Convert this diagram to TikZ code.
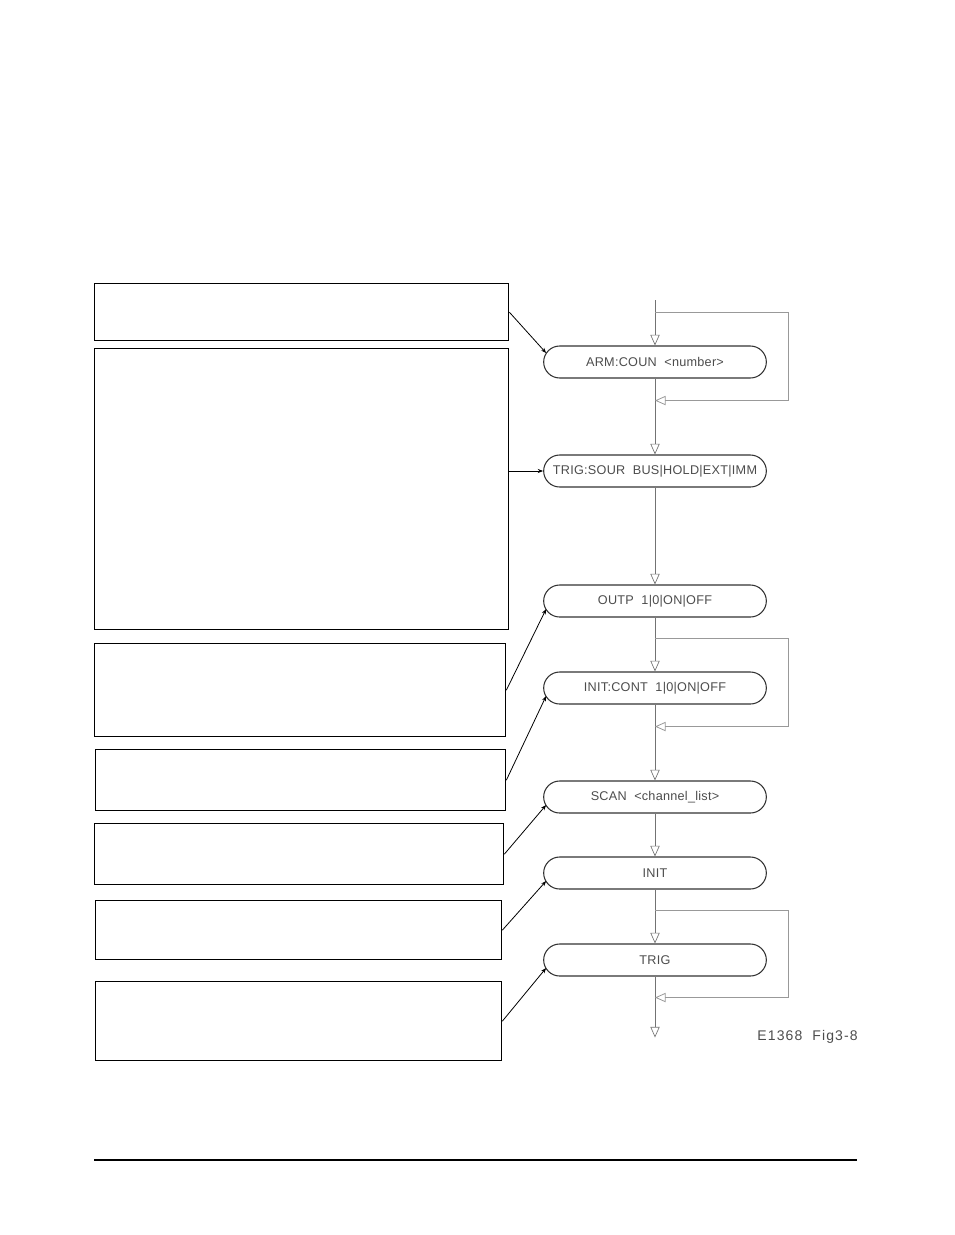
\documentclass[tikz,border=0pt]{standalone}
\usepackage{fontspec}
\setmainfont{Liberation Sans}
\usetikzlibrary{positioning}
\usetikzlibrary{arrows.meta}
\usetikzlibrary{calc}

\begin{document}
\begin{tikzpicture}
  [x=0.75pt,y=-0.75pt,
  infobox/.style={draw=black,line width=1pt,inner sep=0pt,anchor=north west},
  cmd/.style={draw=black!80,line width=0.8pt,rounded corners=12pt,minimum width=167pt,minimum height=24pt,inner sep=0pt,text=black!70,font=\fontsize{9.5}{11}\selectfont\addfontfeatures{LetterSpace=2}},
  flow/.style={draw=black!55,line width=0.5pt,-{Triangle[open,length=8pt,width=7pt]}},
  loopline/.style={draw=black!40,line width=0.6pt,-{Triangle[open,length=8pt,width=7pt]}},
  pointer/.style={draw=black,line width=0.6pt,-{Stealth[length=4pt,width=3pt]}}]
  \useasboundingbox (0,0) rectangle (954,1235);

  % text boxes on the left
  \node[infobox,minimum width=414*0.75pt,minimum height=57*0.75pt] (b1) at (94,283) {};
  \node[infobox,minimum width=414*0.75pt,minimum height=281*0.75pt] (b2) at (94,348) {};
  \node[infobox,minimum width=411*0.75pt,minimum height=93*0.75pt] (b3) at (94,643) {};
  \node[infobox,minimum width=410*0.75pt,minimum height=61*0.75pt] (b4) at (95,749) {};
  \node[infobox,minimum width=409*0.75pt,minimum height=61*0.75pt] (b5) at (94,823) {};
  \node[infobox,minimum width=406*0.75pt,minimum height=59*0.75pt] (b6) at (95,900) {};
  \node[infobox,minimum width=406*0.75pt,minimum height=79*0.75pt] (b7) at (95,981) {};

  % command sequence
  \node[cmd] (arm) at (655,362) {ARM:COUN~~<number>};
  \node[cmd] (trig) at (655,471) {TRIG:SOUR~~BUS|HOLD|EXT|IMM};
  \node[cmd] (outp) at (655,601) {OUTP~~1|0|ON|OFF};
  \node[cmd] (cont) at (655,688) {INIT:CONT~~1|0|ON|OFF};
  \node[cmd] (scan) at (655,797) {SCAN~~<channel\_list>};
  \node[cmd] (init) at (655,873) {INIT};
  \node[cmd] (trg) at (655,960) {TRIG};

  \coordinate (start) at (655,300);
  \draw[flow] (start) -- (arm.north);
  \draw[flow] (arm.south) -- (trig.north);
  \draw[flow] (trig.south) -- (outp.north);
  \draw[flow] (outp.south) -- (cont.north);
  \draw[flow] (cont.south) -- (scan.north);
  \draw[flow] (scan.south) -- (init.north);
  \draw[flow] (init.south) -- (trg.north);
  \draw[flow] (trg.south) -- ++(0,61);

  % loops
  \draw[loopline] ($(arm.north)+(0,-33)$) -- ++(133,0) |- ($(arm.south)+(0,22)$);
  \draw[loopline] ($(cont.north)+(0,-33)$) -- ++(133,0) |- ($(cont.south)+(0,22)$);
  \draw[loopline] ($(trg.north)+(0,-33)$) -- ++(133,0) |- ($(trg.south)+(0,21)$);

  % pointers from the boxes
  \draw[pointer] (b1.east) -- ($(arm.west)+(3,-9)$);
  \draw[pointer] (b2.east |- trig.west) -- (trig.west);
  \draw[pointer] (b3.east) -- ($(outp.west)+(3,8)$);
  \draw[pointer] (b4.east) -- ($(cont.west)+(3,8)$);
  \draw[pointer] (b5.east) -- ($(scan.west)+(3,8)$);
  \draw[pointer] (b6.east) -- ($(init.west)+(3,8)$);
  \draw[pointer] (b7.east) -- ($(trg.west)+(3,8)$);

  \node[anchor=east,inner sep=0pt,text=black!70,font=\fontsize{10.5}{12}\selectfont\addfontfeatures{LetterSpace=8}] (fig) at (858,1037) {E1368~~Fig3-8};
  \draw[black,line width=0.8pt] (94,1160) -- (857,1160);
\end{tikzpicture}
\end{document}
